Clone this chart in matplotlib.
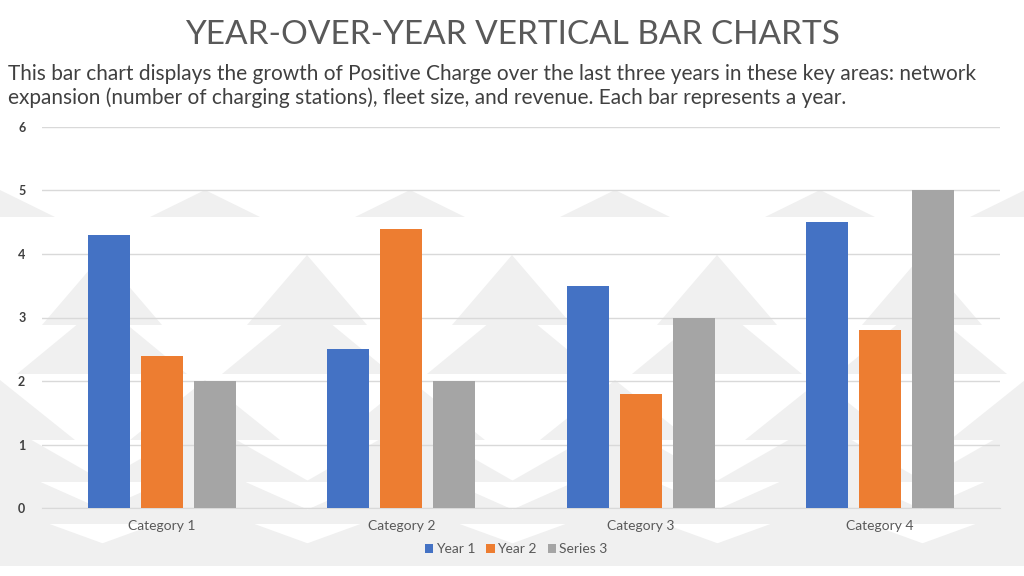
import numpy as np
import matplotlib as mpl
mpl.use('Agg')
import matplotlib.pyplot as plt
from matplotlib.patches import Polygon

categories = ['Category 1', 'Category 2', 'Category 3', 'Category 4']
series_names = ['Year 1', 'Year 2', 'Series 3']
year1 = [4.3, 2.5, 3.5, 4.5]
year2 = [2.4, 4.4, 1.8, 2.8]
series3 = [2.0, 2.0, 3.0, 5.0]
colors = ['#4472C4', '#ED7D31', '#A5A5A5']

title = 'YEAR-OVER-YEAR VERTICAL BAR CHARTS'
subtitle = ('This bar chart displays the growth of Positive Charge over the last three years in these key areas: network\n'
            'expansion (number of charging stations), fleet size, and revenue. Each bar represents a year.')

plt.rcParams['font.family'] = ['Lato', 'DejaVu Sans']

W, H = 1024, 576
fig = plt.figure(figsize=(10.24, 5.76), dpi=100)
fig.patch.set_facecolor('white')

# faint tree pattern in the background (pixel coords)
bg = fig.add_axes([0, 0, 1, 1], zorder=-10)
bg.set_xlim(0, W)
bg.set_ylim(H, 0)
bg.axis('off')

def tree(cx, top, tiers, tier_h, w0, dw):
    for i in range(tiers):
        y0 = top + i * tier_h * 0.7
        hw = (w0 + i * dw) / 2
        bg.add_patch(Polygon([(cx, y0), (cx - hw, y0 + tier_h), (cx + hw, y0 + tier_h)],
                             closed=True, facecolor='#f0f0f0', edgecolor='none'))

for cx in np.arange(0, W + 210, 205):
    tree(cx, 190, 1, 27, 110, 0)
    tree(cx + 102, 255, 2, 70, 120, 50)
    tree(cx, 380, 4, 60, 150, 60)

fig.text(0.5, 1 - 35 / H, title, ha='center', va='center', fontsize=24,
         color='#595959')
fig.text(8 / W, 1 - 86 / H, subtitle, ha='left', va='center', fontsize=15,
         color='#404040', linespacing=1.2)

ax = fig.add_axes([42 / W, 1 - 508 / H, 958 / W, 381 / H])
ax.set_facecolor('none')
x = np.arange(len(categories))
width = 0.175
step = 0.221
for i, (vals, name) in enumerate(zip([year1, year2, series3], series_names)):
    ax.bar(x + (i - 1) * step, vals, width, color=colors[i], label=name, zorder=3)

ax.set_ylim(0, 6)
ax.set_xlim(-0.5, len(categories) - 0.5)
ax.set_yticks(range(0, 7))
ax.set_xticks(x)
ax.set_xticklabels(categories, fontsize=10, color='#595959')
ax.tick_params(axis='y', labelsize=9, labelcolor='#404040', length=0, pad=12)
for t in ax.get_yticklabels():
    t.set_fontweight('bold')
ax.tick_params(axis='x', length=0, pad=9)
ax.grid(axis='y', color='#d9d9d9', linewidth=1, zorder=0)
for s in ['top', 'right', 'left']:
    ax.spines[s].set_visible(False)
ax.spines['bottom'].set_color('#d9d9d9')

leg = fig.legend(loc='center', bbox_to_anchor=(516 / W, 1 - 549 / H), ncol=3, frameon=False,
                 fontsize=10, handlelength=0.6, handleheight=0.6, handletextpad=0.2,
                 columnspacing=0.8, labelcolor='#595959')

fig.savefig('out.png', dpi=100, facecolor='white')
